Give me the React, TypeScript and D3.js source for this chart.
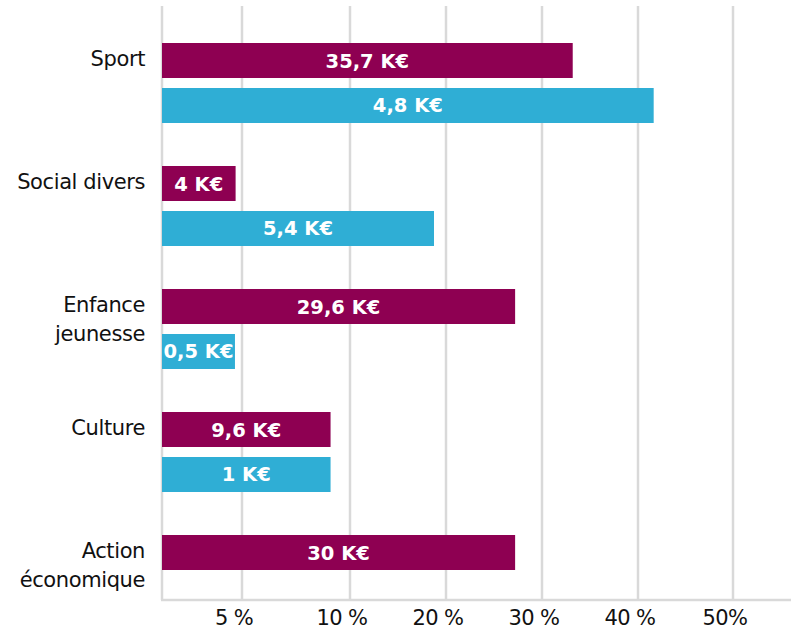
import React from "react";
import * as d3 from "d3";

const categories = ["Sport", "Social divers", "Enfance jeunesse", "Culture", "Action économique"];
const categoryLines = [["Sport"], ["Social divers"], ["Enfance", "jeunesse"], ["Culture"], ["Action", "économique"]];
const seriesA = [33.2, 4.6, 27.2, 9.1, 27.2];
const seriesB: (number | null)[] = [41.65, 18.75, 4.56, 9.1, null];
const labelsA = ["35,7 K€", "4 K€", "29,6 K€", "9,6 K€", "30 K€"];
const labelsB: (string | null)[] = ["4,8 K€", "5,4 K€", "0,5 K€", "1 K€", null];
const tickValues = [5, 10, 20, 30, 40, 50];
const tickLabels = ["5 %", "10 %", "20 %", "30 %", "40 %", "50%"];

const W = 801;
const H = 630;
const COLOR_A = "#8E0052";
const COLOR_B = "#2FAED5";
const GRID = "#D9D9D9";
const FONT = "'DejaVu Sans', 'Open Sans', sans-serif";

export default function App() {
  // piecewise linear axis as drawn in the reference
  const x = d3
    .scaleLinear()
    .domain([0, 5, 10, 20, 30, 40, 50])
    .range([162, 242, 350, 446, 542, 638, 733]);
  const y = d3.scaleBand<string>().domain(categories).range([22, 637]);
  const sub = d3.scaleBand<string>().domain(["a", "b"]).range([21, 101]).paddingInner(0.2222);
  const bh = sub.bandwidth();
  const x0 = x(0);
  const gridTop = 6;
  const axisY = 600;

  return (
    <svg width={W} height={H} style={{ position: "absolute", left: 0, top: 0, background: "#fff" }}>
      {/* gridlines */}
      {tickValues.map((t) => (
        <line key={"g" + t} x1={x(t)} x2={x(t)} y1={gridTop} y2={axisY} stroke={GRID} strokeWidth={2.5} />
      ))}
      {/* axes */}
      <line x1={x0} x2={x0} y1={gridTop} y2={axisY} stroke={GRID} strokeWidth={2.5} />
      <line x1={x0 - 1} x2={791} y1={axisY} y2={axisY} stroke={GRID} strokeWidth={2.5} />
      {/* tick labels */}
      {tickValues.map((t, i) => (
        <text
          key={"t" + t}
          x={x(t) - 8}
          y={625}
          textAnchor="middle"
          fontFamily={FONT}
          fontSize={21}
          fill="#111"
          letterSpacing={-0.6}
        >
          {tickLabels[i]}
        </text>
      ))}
      {categories.map((c, i) => {
        const gy = y(c)!;
        const yA = gy + sub("a")!;
        const yB = gy + sub("b")!;
        const vb = seriesB[i];
        const lb = labelsB[i];
        return (
          <g key={c}>
            <rect x={x0} y={yA} width={x(seriesA[i]) - x0} height={bh} fill={COLOR_A} />
            <text
              x={(x0 + x(seriesA[i])) / 2}
              y={yA + bh / 2 + 7}
              textAnchor="middle"
              fontFamily={FONT}
              fontWeight={700}
              fontSize={19.5}
              fill="#fff"
              letterSpacing={0}
            >
              {labelsA[i]}
            </text>
            {vb != null && (
              <>
                <rect x={x0} y={yB} width={x(vb) - x0} height={bh} fill={COLOR_B} />
                <text
                  x={(x0 + x(vb)) / 2}
                  y={yB + bh / 2 + 7}
                  textAnchor="middle"
                  fontFamily={FONT}
                  fontWeight={700}
                  fontSize={19.5}
                  fill="#fff"
                  letterSpacing={0}
                >
                  {lb}
                </text>
              </>
            )}
            {categoryLines[i].map((ln, j) => (
              <text
                key={ln}
                x={145}
                y={yA + bh / 2 + 5 + j * 29}
                textAnchor="end"
                fontFamily={FONT}
                fontSize={21}
                fill="#111"
                letterSpacing={-0.4}
              >
                {ln}
              </text>
            ))}
          </g>
        );
      })}
    </svg>
  );
}
